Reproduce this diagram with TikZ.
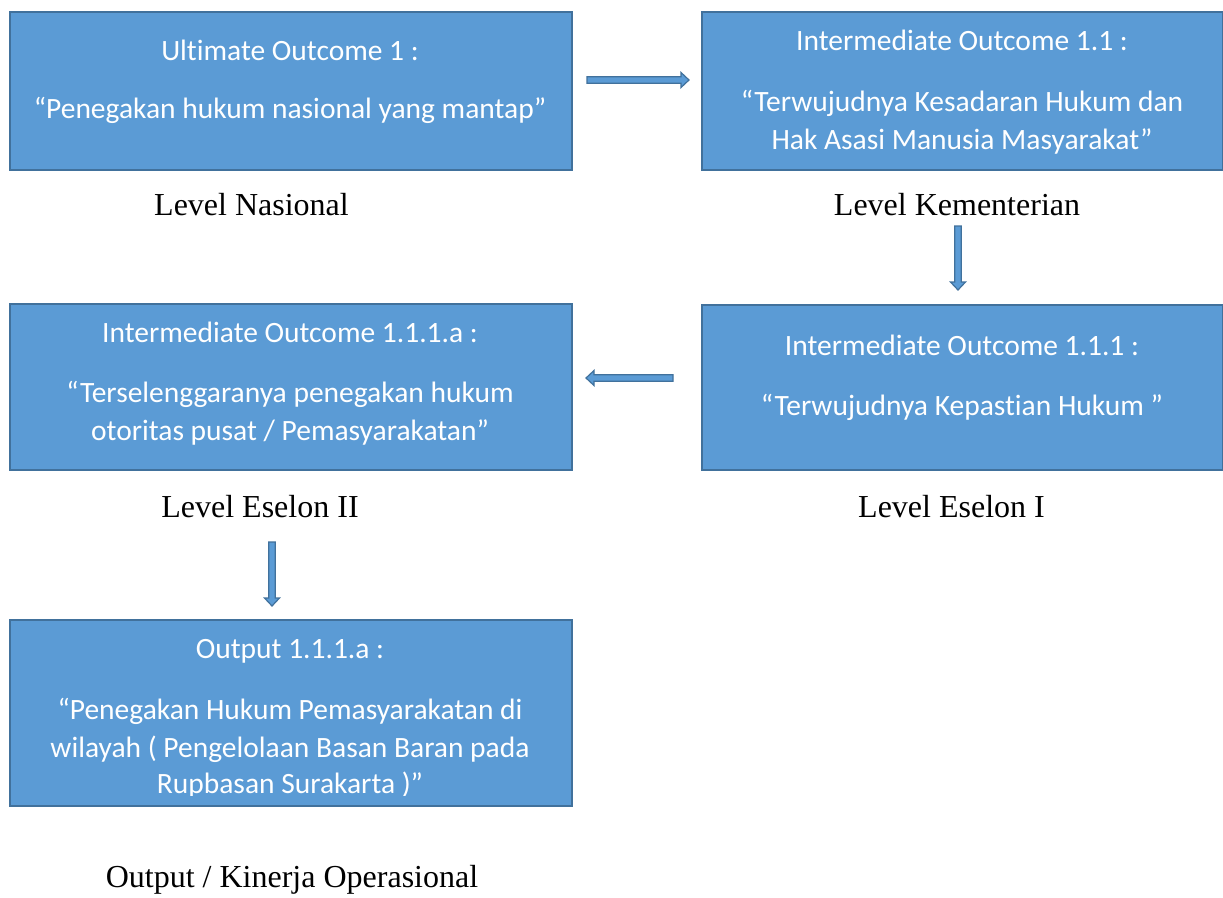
\documentclass[tikz,border=0pt]{standalone}
\usepackage{fontspec}
\setmainfont{Liberation Serif}
\newfontfamily\boxfont[Ligatures={NoCommon}]{Carlito}
\definecolor{boxfill}{HTML}{5B9BD5}
\definecolor{boxline}{HTML}{41719C}
\newcommand\blkarrow[3]{% start coordinate, angle, length
  \begin{scope}[shift={(#1)}, rotate=#2]
    \draw[boxline, fill=boxfill, line width=1.2pt, line join=miter]
      (0,-3.2) -- (#3-8,-3.2) -- (#3-8,-7.5) -- (#3,0) -- (#3-8,7.5) -- (#3-8,3.2) -- (0,3.2) -- cycle;
  \end{scope}}
\begin{document}
\begin{tikzpicture}[x=1pt,y=-1pt,
  box/.style={draw=boxline, line width=1.6pt, fill=boxfill, anchor=north west, inner sep=0pt},
  bt/.style={text=white, font=\boxfont\fontsize{29.5}{35}\selectfont, anchor=base, inner sep=0pt},
  level/.style={font=\fontsize{32}{38}\selectfont, anchor=base, inner sep=0pt}]
\useasboundingbox (0,0) rectangle (1223,897);
\fill[white] (0,0) rectangle (1223,897);

% boxes
\node[box, minimum width=562pt, minimum height=158pt] (b1) at (9,11) {};
\node[box, minimum width=521pt, minimum height=158pt] (b2) at (701,11) {};
\node[box, minimum width=562pt, minimum height=166pt] (b3) at (9,303) {};
\node[box, minimum width=521pt, minimum height=165pt] (b4) at (701,304) {};
\node[box, minimum width=562pt, minimum height=186pt] (b5) at (9,619) {};

% texts
\node[bt] (t1a) at (290,60) {Ultimate Outcome 1 :};
\node[bt] (t1b) at (290,118) {“Penegakan hukum nasional yang mantap”};

\node[bt] (t2a) at (962,50) {Intermediate Outcome 1.1 :};
\node[bt] (t2b) at (962,111) {“Terwujudnya Kesadaran Hukum dan};
\node[bt] (t2c) at (962,149) {Hak Asasi Manusia Masyarakat”};

\node[bt] (t3a) at (290,342) {Intermediate Outcome 1.1.1.a :};
\node[bt] (t3b) at (290,402) {“Terselenggaranya penegakan hukum};
\node[bt] (t3c) at (290,440) {otoritas pusat / Pemasyarakatan”};

\node[bt] (t4a) at (962,355) {Intermediate Outcome 1.1.1 :};
\node[bt] (t4b) at (962,415) {“Terwujudnya Kepastian Hukum ”};

\node[bt] (t5a) at (290,658) {Output 1.1.1.a :};
\node[bt] (t5b) at (290,719) {“Penegakan Hukum Pemasyarakatan di};
\node[bt] (t5c) at (290,757) {wilayah ( Pengelolaan Basan Baran pada};
\begin{scope}
  \clip (10,620) rectangle (570,795);
  \node[bt] (t5d) at (290,793.5) {Rupbasan Surakarta )”};
\end{scope}

% level labels
\node[level] (l1) at (251.5,215) {Level Nasional};
\node[level] (l2) at (957,215) {Level Kementerian};
\node[level] (l3) at (260,517) {Level Eselon II};
\node[level] (l4) at (951.5,517) {Level Eselon I};
\node[level] (l5) at (292,887) {Output / Kinerja Operasional};

% arrows
\coordinate (a1) at (587,80);
\coordinate (a2) at (958,226);
\coordinate (a3) at (673,378);
\coordinate (a4) at (272,542);
\blkarrow{a1}{0}{102}
\blkarrow{a2}{-90}{64}
\blkarrow{a3}{180}{87}
\blkarrow{a4}{-90}{64}
\end{tikzpicture}
\end{document}
